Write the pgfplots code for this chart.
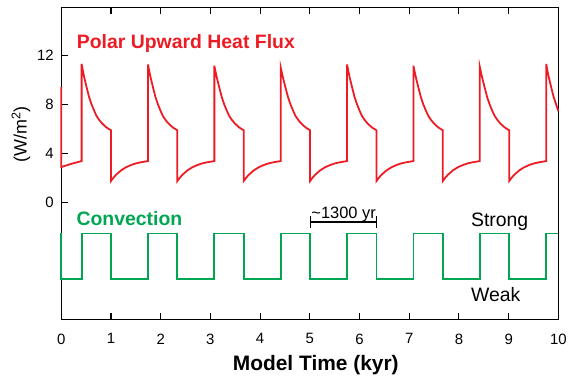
\documentclass[border=0pt]{standalone}
\usepackage{pgfplots}
\pgfplotsset{compat=1.18}
\usepackage{fontspec}
\setmainfont{Liberation Sans}
\usetikzlibrary{arrows.meta}
\definecolor{fluxred}{RGB}{237,28,36}
\definecolor{convgreen}{RGB}{0,166,81}
\begin{document}
\begin{tikzpicture}
\begin{axis}[
  name=ax,
  width=499.2pt, height=313.5pt, scale only axis,
  xmin=0, xmax=10, ymin=-9.55, ymax=15.9,
  xtick={0,1,2,3,4,5,6,7,8,9,10},
  ytick={0,4,8,12},
  ytick pos=left,
  tick align=inside,
  major tick length=7pt,
  axis line style={line width=1.1pt},
  every tick/.style={black, line width=1.1pt},
  /pgf/number format/assume math mode=true,
  tick label style={font=\fontsize{15}{18}\selectfont},
  xticklabel style={yshift=-10.5pt},
  yticklabel style={xshift=-4pt},
  xlabel={\textbf{Model Time (kyr)}},
  xlabel style={font=\fontsize{21}{24}\selectfont, at={(rel axis cs:0.5,0)}, anchor=base, yshift=-51pt, xshift=6pt},
  ylabel={(W/m\textsuperscript{2})},
  ylabel style={font=\fontsize{18}{21}\selectfont, at={(ticklabel cs:0.596)}, xshift=-1pt},
  clip=false,
]
\addplot[fluxred, line width=1.8pt] coordinates {
(0,9.42) (0,2.89) (0.1,3.02) (0.2,3.15) (0.3,3.26) (0.41,3.38)
(0.41,11.3) (0.435,10.75) (0.46,10.25) (0.51,9.4) (0.56,8.6) (0.61,8.0) (0.66,7.5) (0.71,7.05) (0.76,6.75) (0.81,6.5) (0.86,6.3) (0.91,6.12) (0.96,5.99) (1.0,5.89) (1.0,1.75) (1.05,2.02) (1.10,2.25) (1.20,2.61) (1.30,2.87) (1.40,3.05) (1.50,3.19) (1.60,3.28) (1.745,3.38)
(1.745,11.25) (1.77,10.72) (1.795,10.23) (1.845,9.4) (1.895,8.6) (1.945,8.0) (1.995,7.5) (2.045,7.05) (2.095,6.75) (2.145,6.5) (2.195,6.3) (2.245,6.12) (2.295,5.99) (2.335,5.89) (2.335,1.75) (2.385,2.02) (2.435,2.25) (2.535,2.61) (2.635,2.87) (2.735,3.05) (2.835,3.19) (2.935,3.28) (3.08,3.38)
(3.08,11.15) (3.105,10.65) (3.13,10.18) (3.18,9.36) (3.23,8.58) (3.28,7.98) (3.33,7.49) (3.38,7.05) (3.43,6.75) (3.48,6.5) (3.53,6.3) (3.58,6.12) (3.63,5.99) (3.67,5.89) (3.67,1.75) (3.72,2.02) (3.77,2.25) (3.87,2.61) (3.97,2.87) (4.07,3.05) (4.17,3.19) (4.27,3.28) (4.415,3.38)
(4.415,11.0) (4.44,10.55) (4.465,10.1) (4.515,9.3) (4.565,8.55) (4.615,7.96) (4.665,7.48) (4.715,7.04) (4.765,6.75) (4.815,6.5) (4.865,6.3) (4.915,6.12) (4.965,5.99) (5.005,5.89) (5.005,1.75) (5.055,2.02) (5.105,2.25) (5.205,2.61) (5.305,2.87) (5.405,3.05) (5.505,3.19) (5.605,3.28) (5.75,3.38)
(5.75,11.25) (5.775,10.72) (5.80,10.23) (5.85,9.4) (5.90,8.6) (5.95,8.0) (6.00,7.5) (6.05,7.05) (6.10,6.75) (6.15,6.5) (6.20,6.3) (6.25,6.12) (6.30,5.99) (6.34,5.89) (6.34,1.75) (6.39,2.02) (6.44,2.25) (6.54,2.61) (6.64,2.87) (6.74,3.05) (6.84,3.19) (6.94,3.28) (7.085,3.38)
(7.085,11.15) (7.11,10.65) (7.135,10.18) (7.185,9.36) (7.235,8.58) (7.285,7.98) (7.335,7.49) (7.385,7.05) (7.435,6.75) (7.485,6.5) (7.535,6.3) (7.585,6.12) (7.635,5.99) (7.675,5.89) (7.675,1.75) (7.725,2.02) (7.775,2.25) (7.875,2.61) (7.975,2.87) (8.075,3.05) (8.175,3.19) (8.275,3.28) (8.42,3.38)
(8.42,11.05) (8.445,10.58) (8.47,10.13) (8.52,9.33) (8.57,8.56) (8.62,7.97) (8.67,7.48) (8.72,7.05) (8.77,6.75) (8.82,6.5) (8.87,6.3) (8.92,6.12) (8.97,5.99) (9.01,5.89) (9.01,1.75) (9.06,2.02) (9.11,2.25) (9.21,2.61) (9.31,2.87) (9.41,3.05) (9.51,3.19) (9.61,3.28) (9.755,3.38)
(9.755,11.3) (9.78,10.75) (9.805,10.25) (9.855,9.4) (9.905,8.6) (9.955,8.0) (10.0,7.45)
};
\addplot[convgreen, line width=1.8pt] coordinates {
(0,-2.52) (0,-6.23) (0.41,-6.23) (0.41,-2.52) (1.0,-2.52) (1.0,-6.23) (1.745,-6.23) (1.745,-2.52) (2.335,-2.52) (2.335,-6.23) (3.08,-6.23) (3.08,-2.52) (3.67,-2.52) (3.67,-6.23) (4.415,-6.23) (4.415,-2.52) (5.005,-2.52) (5.005,-6.23) (5.75,-6.23) (5.75,-2.52) (6.34,-2.52) (6.34,-6.23) (7.085,-6.23) (7.085,-2.52) (7.675,-2.52) (7.675,-6.23) (8.42,-6.23) (8.42,-2.52) (9.01,-2.52) (9.01,-6.23) (9.755,-6.23) (9.755,-2.52) (10,-2.52)
};
\addplot[black, line width=1.4pt, {Bar[width=12pt]}-{Bar[width=12pt]}] coordinates {(5.0,-1.6) (6.35,-1.6)};
\node[anchor=base, font=\fontsize{16.5}{19}\selectfont, inner sep=0pt] at (axis cs:5.68,-1.27) {\textasciitilde 1300 yr};
\node[anchor=base west, font=\fontsize{19.5}{22}\selectfont\bfseries, text=fluxred, inner sep=0pt] at (axis cs:0.31,12.52) {Polar Upward Heat Flux};
\node[anchor=base west, font=\fontsize{19.5}{22}\selectfont\bfseries, text=convgreen, inner sep=0pt] at (axis cs:0.305,-1.90) {Convection};
\node[anchor=base west, font=\fontsize{19.5}{22}\selectfont, inner sep=0pt] at (axis cs:8.24,-1.95) {Strong};
\node[anchor=base west, font=\fontsize{19.5}{22}\selectfont, inner sep=0pt] at (axis cs:8.24,-8.07) {Weak};
\end{axis}
\useasboundingbox ([shift={(-61.5pt,-63pt)}]ax.south west) rectangle ([shift={(9.3pt,7.5pt)}]ax.north east);
\end{tikzpicture}
\end{document}
